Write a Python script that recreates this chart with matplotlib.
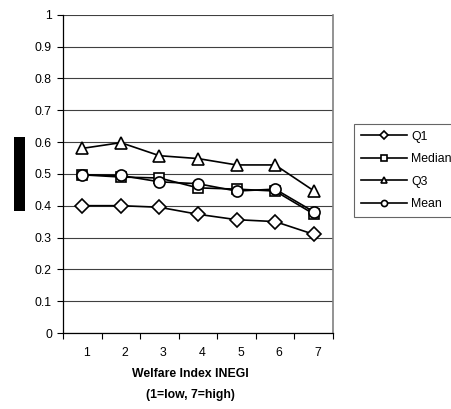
import matplotlib
matplotlib.use("Agg")
import matplotlib.pyplot as plt
from matplotlib.patches import Rectangle
from matplotlib.transforms import ScaledTranslation

plt.rcParams['font.family'] = ['Liberation Sans', 'DejaVu Sans']

# Welfare index categories and series values
categories = [1, 2, 3, 4, 5, 6, 7]
q1 = [0.400, 0.400, 0.395, 0.373, 0.356, 0.350, 0.310]
median = [0.497, 0.490, 0.487, 0.456, 0.452, 0.446, 0.374]
q3 = [0.580, 0.598, 0.557, 0.548, 0.528, 0.528, 0.447]
mean = [0.497, 0.495, 0.475, 0.469, 0.446, 0.452, 0.381]

series = [
    ("Q1", q1, "D", 7.0),
    ("Median", median, "s", 7.5),
    ("Q3", q3, "^", 9.0),
    ("Mean", mean, "o", 8.0),
]

fig = plt.figure(figsize=(4.51, 4.09), dpi=100)
ax = fig.add_axes([63 / 451, 76 / 409, 270 / 451, 318.3 / 409])

for label, vals, marker, ms in series:
    ax.plot(categories, vals, color="black", linewidth=1.2, marker=marker,
            markersize=ms, markerfacecolor="white", markeredgecolor="black",
            markeredgewidth=1.2, label=label)

ax.set_xlim(0.5, 7.5)
ax.set_ylim(0, 1)
ax.set_yticks([i / 10 for i in range(11)])
ax.set_yticklabels(["0", "0.1", "0.2", "0.3", "0.4", "0.5", "0.6", "0.7", "0.8", "0.9", "1"])
ax.yaxis.grid(True, color="#404040", linewidth=0.8)
ax.set_axisbelow(True)

# category boundaries get the tick marks, labels sit at the centres
ax.set_xticks([c - 0.5 for c in categories] + [categories[-1] + 0.5])
ax.set_xticklabels([])
ax.set_xticks(categories, minor=True)
ax.set_xticklabels([str(c) for c in categories], minor=True)
ax.tick_params(axis="x", which="major", direction="out", length=4, width=0.8, color="black")
ax.tick_params(axis="x", which="minor", length=0, pad=10, labelsize=8.8)
ax.tick_params(axis="y", direction="out", length=4, width=0.8, labelsize=8.8, pad=4)
offset = ScaledTranslation(4 / 100, 0, fig.dpi_scale_trans)
for lab in ax.get_xticklabels(minor=True):
    lab.set_transform(lab.get_transform() + offset)

ax.spines["top"].set_visible(False)
ax.spines["right"].set_color("#808080")
ax.spines["right"].set_linewidth(1.2)
ax.spines["left"].set_linewidth(0.9)
ax.spines["bottom"].set_linewidth(0.9)

fig.text(190 / 451, 1 - 374 / 409, "Welfare Index INEGI", ha="center", va="center",
         fontsize=8.8, fontweight="bold")
fig.text(190 / 451, 1 - 395 / 409, "(1=low, 7=high)", ha="center", va="center",
         fontsize=8.8, fontweight="bold")

# black block where the y-axis title should be
fig.patches.append(Rectangle((14 / 451, 198 / 409), 11 / 451, 74 / 409,
                             transform=fig.transFigure, facecolor="black",
                             edgecolor="none"))

leg = ax.legend(loc="upper left", bbox_to_anchor=(354 / 451, 1 - 124 / 409),
                bbox_transform=fig.transFigure, fontsize=8.8, frameon=True,
                fancybox=False, edgecolor="#404040", handlelength=3.8,
                handletextpad=0.35, labelspacing=0.85, borderpad=0.55,
                borderaxespad=0, markerscale=0.55)
leg.get_frame().set_linewidth(0.8)

fig.savefig("out.png", dpi=100)
